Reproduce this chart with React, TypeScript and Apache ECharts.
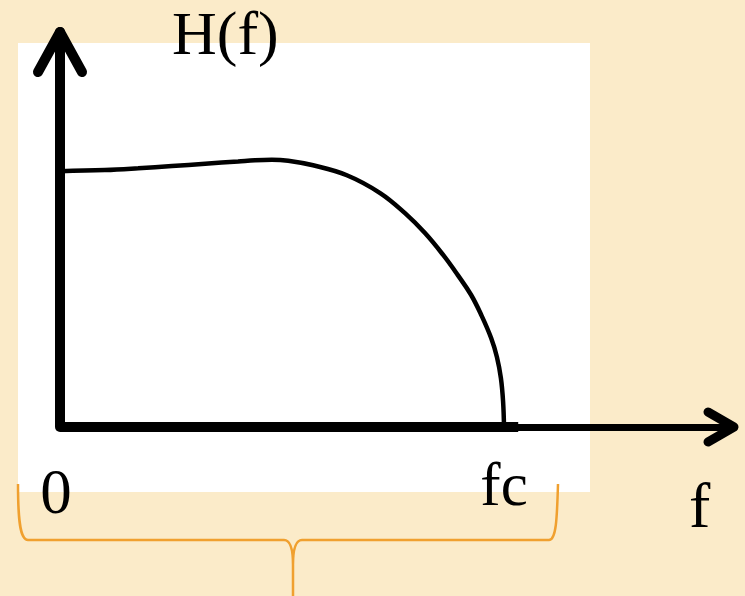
import React, { useEffect, useRef } from "react";
import * as echarts from "echarts";

// Frequency (fc = 1) and normalized response
const freq = [0, 0.101, 0.176, 0.252, 0.327, 0.401, 0.439, 0.477, 0.514, 0.57, 0.646, 0.721, 0.777, 0.822, 0.863, 0.896, 0.926, 0.95, 0.971, 0.984, 0.993, 0.998, 1.0];
const gain = [1.004, 1.008, 1.015, 1.024, 1.033, 1.042, 1.047, 1.049, 1.045, 1.027, 0.988, 0.918, 0.839, 0.761, 0.675, 0.596, 0.518, 0.435, 0.349, 0.275, 0.192, 0.098, 0];
const tickValues = [0, 1];
const tickLabels = ["0", "fc"];
const yName = "H(f)";
const xName = "f";

const SERIF = "'Liberation Serif', 'Times New Roman', serif";
const BRACE =
  "M18,484 C18,520 20,540 28,540 L284,540 C290,540 293,548 293,565 L293,596 M293,565 C293,548 296,540 302,540 L549,540 C556,540 557,520 558,484";

export default function App() {
  const ref = useRef<HTMLDivElement>(null);
  useEffect(() => {
    if (!ref.current) return;
    try {
      echarts.graphic.registerShape("brace", echarts.graphic.extendPath(BRACE, {}));
    } catch (e) {}
    const chart = echarts.init(ref.current, null, { renderer: "svg" });
    const data = freq.map((f, i) => [f, gain[i]]);
    chart.setOption({
      animation: false,
      backgroundColor: "#FBEBC9",
      grid: { left: 60, right: 11, top: 32, bottom: 169, outerBoundsMode: "none", containLabel: false },
      xAxis: {
        type: "value",
        min: 0,
        max: 1.518,
        interval: 1,
        axisLine: { show: true, lineStyle: { color: "#000", width: 7 } },
        axisTick: { show: false },
        splitLine: { show: false },
        axisLabel: {
          show: true,
          margin: 27,
          showMaxLabel: false,
          formatter: (v: number) => {
            const i = tickValues.indexOf(v);
            if (i < 0) return "";
            return i === 0 ? `{a|${tickLabels[i]}}` : `{b|${tickLabels[i]}}`;
          },
          rich: {
            a: { fontFamily: SERIF, fontSize: 63, color: "#000", lineHeight: 76, padding: [0, 8, 0, 0] },
            b: { fontFamily: SERIF, fontSize: 61, color: "#000", lineHeight: 60 },
          },
        },
      },
      yAxis: {
        type: "value",
        min: 0,
        max: 1.55,
        axisLine: { show: true, lineStyle: { color: "#000", width: 10 } },
        axisTick: { show: false },
        splitLine: { show: false },
        axisLabel: { show: false },
      },
      series: [
        {
          type: "line",
          data,
          smooth: 0.4,
          showSymbol: false,
          symbol: "none",
          lineStyle: { color: "#000", width: 4.5 },
          z: 3,
          markLine: {
            silent: true,
            symbol: "none",
            label: { show: false },
            lineStyle: { color: "#000", width: 10, type: "solid" },
            data: [[{ coord: [0, 0] }, { coord: [1.032, 0] }]],
          },
        },
      ],
      graphic: {
        elements: [
          { type: "rect", z: -10, shape: { x: 18, y: 43, width: 572, height: 449 }, style: { fill: "#ffffff" } },
          {
            type: "polyline",
            z: 10,
            shape: { points: [[38, 72], [60, 32], [82, 72]] },
            style: { stroke: "#000", lineWidth: 10, fill: null, lineCap: "round", lineJoin: "round" },
          },
          {
            type: "polyline",
            z: 10,
            shape: { points: [[708, 412], [734, 427], [708, 442]] },
            style: { stroke: "#000", lineWidth: 9, fill: null, lineCap: "round", lineJoin: "round" },
          },
          {
            type: "brace",
            z: 10,
            x: 0,
            y: 0,
            style: { stroke: "#F0A02F", lineWidth: 2.5, fill: null },
          },
          {
            type: "text",
            z: 10,
            x: 172,
            y: 33,
            style: { text: yName, font: `62px ${SERIF}`, lineHeight: 50, fill: "#000", textAlign: "left", textVerticalAlign: "middle" },
          },
          {
            type: "text",
            z: 10,
            x: 689,
            y: 505,
            style: { text: xName, font: `64px ${SERIF}`, fill: "#000", textAlign: "left", textVerticalAlign: "middle" },
          },
        ],
      },
    });
    return () => chart.dispose();
  }, []);
  return <div ref={ref} style={{ position: "fixed", left: 0, top: 0, width: 745, height: 596 }} />;
}
